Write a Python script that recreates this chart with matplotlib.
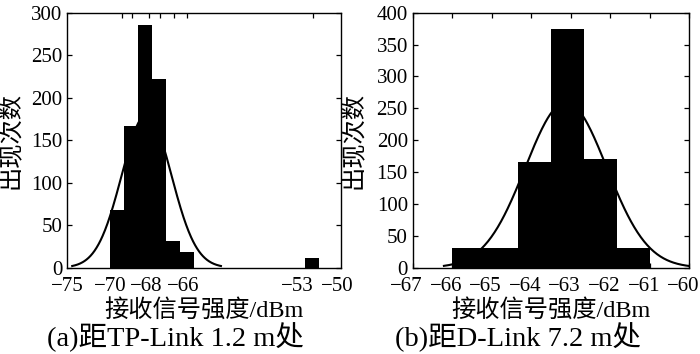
import numpy as np
import matplotlib
matplotlib.use("Agg")
import matplotlib.pyplot as plt
from matplotlib.ticker import FixedLocator
from matplotlib.transforms import ScaledTranslation

plt.rcParams['font.family'] = ['Liberation Serif', 'Noto Sans CJK SC']
plt.rcParams['axes.unicode_minus'] = True

# ---- Panel (a): TP-Link 1.2 m ----
a_bin_start = -71.23
a_bin_width = 1.282
a_counts = [68, 167, 285, 222, 31, 19, 0, 0, 0, 0, 0, 0, 0, 0, 11]
a_fit_mean = -67.88
a_fit_std = 2.28
a_xlim = (-75, -50)
a_ylim = (0, 300)
a_yticks = [0, 50, 100, 150, 200, 250, 300]
a_xtick_labels = ['−75', '−70', '−68', '−66', '−53', '−50']
a_xtick_label_pos = [-75.2, -71.2, -67.95, -64.55, -54.0, -50.3]
a_xtick_marks = [-70.16, -69.19, -67.64, -66.61, -65.36, -64.14, -52.53]
a_caption = '(a)距TP-Link 1.2 m处'

# ---- Panel (b): D-Link 7.2 m ----
b_bin_start = -66.0
b_bin_width = 5.0 / 6.0
b_counts = [31, 31, 166, 374, 171, 31]
b_fit_mean = -63.12
b_fit_std = 1.03
b_xlim = (-67, -60)
b_ylim = (0, 400)
b_yticks = [0, 50, 100, 150, 200, 250, 300, 350, 400]
b_xticks = [-67, -66, -65, -64, -63, -62, -61, -60]
b_xtick_labels = ['−67', '−66', '−65', '−64', '−63', '−62', '−61', '−60']
b_caption = '(b)距D-Link 7.2 m处'

xlabel = '接收信号强度/dBm'
ylabel = '出现次数'

fig = plt.figure(figsize=(7.0, 3.54), dpi=100)
axa = fig.add_axes([0.0957, 0.2438, 0.3914, 0.7203])
axb = fig.add_axes([0.5896, 0.2438, 0.3951, 0.7203])

FS = 15
LFS = 17.5
CFS = 20.5
XPAD = 6.5


def draw(ax, bin_start, bw, counts, mu, sd):
    counts = np.asarray(counts, dtype=float)
    edges = bin_start + bw * np.arange(len(counts))
    ax.bar(edges, counts, width=bw, align='edge', color='black', linewidth=0, zorder=2)
    xs = np.linspace(mu - 3 * sd, mu + 3 * sd, 300)
    amp = counts.sum() * bw / (sd * np.sqrt(2 * np.pi))
    ax.plot(xs, amp * np.exp(-(xs - mu) ** 2 / (2 * sd ** 2)), color='black', lw=1.5, zorder=3)
    for s in ax.spines.values():
        s.set_linewidth(1.0)
    ax.tick_params(direction='in', top=True, right=True, length=3.5, width=0.9,
                   labelsize=FS)
    ax.tick_params(axis='y', pad=3.5)
    ax.tick_params(axis='x', pad=XPAD)
    ax.set_ylabel(ylabel, fontsize=LFS)
    ax.set_xlabel(xlabel, fontsize=LFS, labelpad=3)


draw(axa, a_bin_start, a_bin_width, a_counts, a_fit_mean, a_fit_std)
axa.set_xlim(*a_xlim)
axa.set_ylim(*a_ylim)
axa.set_yticks(a_yticks)
axa.set_xticks(a_xtick_label_pos)
axa.set_xticklabels(a_xtick_labels)
axa.tick_params(axis='x', which='major', length=0, pad=XPAD)
axa.xaxis.set_minor_locator(FixedLocator(a_xtick_marks))
axa.tick_params(axis='x', which='minor', direction='in', top=True, bottom=True,
                length=3.5, width=0.9)
axa.yaxis.set_label_coords(-0.163, 0.5)

draw(axb, b_bin_start, b_bin_width, b_counts, b_fit_mean, b_fit_std)
axb.set_xlim(*b_xlim)
axb.set_ylim(*b_ylim)
axb.set_yticks(b_yticks)
axb.set_xticks(b_xticks)
axb.set_xticklabels(b_xtick_labels)
axb.yaxis.set_label_coords(-0.168, 0.5)
shift = ScaledTranslation(-6 / 100, 0, fig.dpi_scale_trans)
for t in axb.xaxis.get_major_ticks():
    t.label1.set_transform(t.label1.get_transform() + shift)

fig.text(0.25, 0.048, a_caption, ha='center', va='center', fontsize=CFS)
fig.text(0.7407, 0.048, b_caption, ha='center', va='center', fontsize=CFS)

fig.savefig('out.png', dpi=100)
